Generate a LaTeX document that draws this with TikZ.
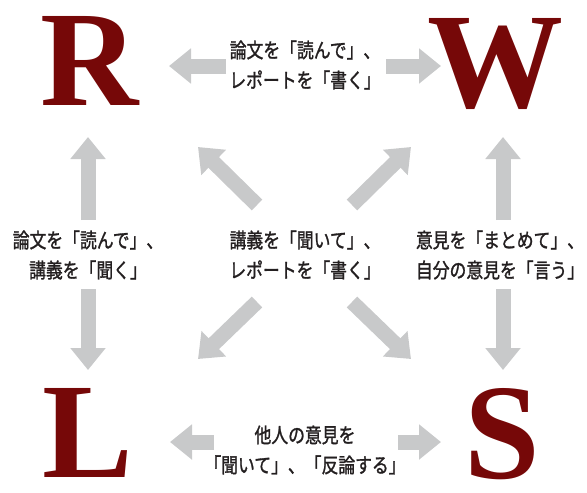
\documentclass[tikz,border=0pt]{standalone}
\usepackage{fontspec}
\usepackage{graphicx}
\setmainfont{Liberation Serif}
\newfontfamily\jp[FakeBold=1.5]{Noto Sans CJK JP}
\usetikzlibrary{arrows.meta}
\definecolor{letterred}{RGB}{118,8,8}
\definecolor{arrowgray}{RGB}{200,201,202}
\definecolor{textgray}{RGB}{35,31,32}
\newcommand\sq[1]{\scalebox{0.82}[1]{#1}}
\begin{document}
\begin{tikzpicture}[x=1pt,y=-1pt,
  letter/.style={inner sep=0pt, anchor=base, text height=90pt, text depth=0pt, text=letterred, font=\fontsize{136}{136}\selectfont\bfseries},
  lbl/.style={inner sep=0pt, align=center, text=textgray, font=\jp\fontsize{20.5}{30}\selectfont},
  blk/.style={draw=arrowgray, line width=15pt, line cap=butt, -{Triangle[width=34pt,length=22pt]}}]
\useasboundingbox (0,0) rectangle (587,493);
% letters
\node[letter] (R) at (90,105) {R};
\node[letter] (W) at (495,107) {W};
\node[letter] (L) at (88,477) {L};
\node[letter] (S) at (502,478) {S};
% labels
\node[lbl] (top) at (305,65) {\sq{論文を「読んで」、}\\\sq{レポートを「書く」}};
\node[lbl] (mid) at (305,255) {\sq{講義を「聞いて」、}\\\sq{レポートを「書く」}};
\node[lbl] (lft) at (88,255) {\sq{論文を「読んで」、}\\\sq{講義を「聞く」}};
\node[lbl] (rgt) at (500,255) {\sq{意見を「まとめて」、}\\\sq{自分の意見を「言う」}};
\node[lbl] (bot) at (305,450) {\sq{他人の意見を}\\\sq{「聞いて」、「反論する」}};
% arrow ends
\coordinate (t1) at (226,66);  \coordinate (t1e) at (169,66);
\coordinate (t2) at (386,66);  \coordinate (t2e) at (441,66);
\coordinate (b1) at (214,442); \coordinate (b1e) at (170,442);
\coordinate (b2) at (398,442); \coordinate (b2e) at (441,442);
\coordinate (l1) at (88,220);  \coordinate (l1e) at (88,137);
\coordinate (l2) at (88,289);  \coordinate (l2e) at (88,370);
\coordinate (r1) at (503,220); \coordinate (r1e) at (503,137);
\coordinate (r2) at (503,289); \coordinate (r2e) at (503,370);
\coordinate (d1) at (257,205); \coordinate (d1e) at (198,147);
\coordinate (d2) at (352,205); \coordinate (d2e) at (411,147);
\coordinate (d3) at (257,302); \coordinate (d3e) at (198,359);
\coordinate (d4) at (352,302); \coordinate (d4e) at (411,359);
\foreach \a in {t1,t2,b1,b2,l1,l2,r1,r2,d1,d2,d3,d4}{\draw[blk] (\a) -- (\a e);}
\end{tikzpicture}
\end{document}
